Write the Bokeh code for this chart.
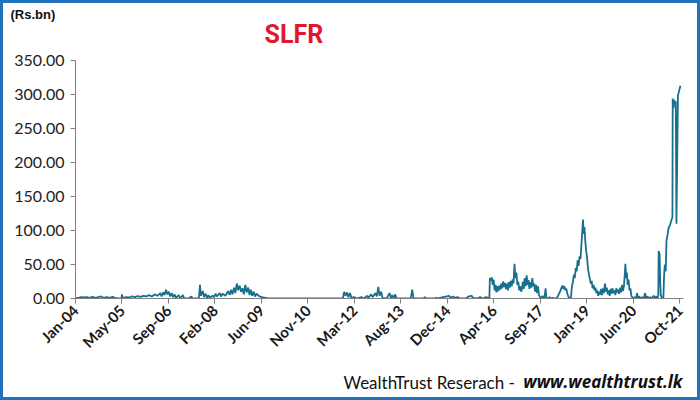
import math
from datetime import datetime, timedelta
from bokeh.plotting import figure
from bokeh.layouts import column
from bokeh.models import Range1d, FixedTicker, PrintfTickFormatter, Title
from bokeh.core.properties import value
from bokeh.embed import file_html
from bokeh.resources import INLINE

# ---- data (Rs.bn) ----
dates = [
    "2004-01-05","2004-02-01","2004-03-01","2004-04-01","2004-05-01","2004-06-01","2004-07-01","2004-08-01",
    "2004-09-01","2004-10-01","2004-11-01","2004-12-01",
    "2005-01-01","2005-02-01","2005-03-01","2005-04-01","2005-05-10","2005-05-15","2005-05-20","2005-07-01",
    "2005-08-01","2005-09-01","2005-10-01","2005-11-01","2005-12-01",
    "2006-01-01","2006-02-01","2006-03-01","2006-04-01","2006-05-01","2006-06-01","2006-07-01","2006-07-15",
    "2006-08-01","2006-08-15","2006-09-01","2006-09-15","2006-10-01","2006-10-15","2006-11-01","2006-11-15",
    "2006-12-01","2006-12-15",
    "2007-01-15","2007-02-01","2007-03-01","2007-03-15","2007-05-01","2007-06-01","2007-06-10","2007-08-20",
    "2007-09-01","2007-09-10","2007-10-01","2007-10-15","2007-11-01","2007-11-15","2007-12-01","2007-12-15",
    "2008-01-15","2008-02-01","2008-02-15","2008-03-01","2008-04-01","2008-04-15","2008-05-01","2008-06-01",
    "2008-07-01","2008-07-15","2008-08-01","2008-08-15","2008-09-01","2008-09-15","2008-10-01","2008-10-15",
    "2008-11-01","2008-11-15","2008-12-01","2008-12-15",
    "2009-01-01","2009-01-15","2009-02-01","2009-02-15","2009-03-01","2009-03-15","2009-04-01","2009-04-15",
    "2009-05-01","2009-06-01","2009-07-01","2009-08-01","2009-09-01",
    "2011-10-15","2011-11-15","2011-12-01","2011-12-15","2012-01-01","2012-01-15","2012-02-01","2012-02-15",
    "2012-03-15","2012-04-15","2012-06-01","2012-07-01","2012-08-01","2012-08-15","2012-09-15","2012-10-01",
    "2012-11-01","2012-11-15","2012-12-01","2012-12-15","2013-01-01","2013-01-15","2013-03-01","2013-04-01",
    "2013-04-15","2013-05-01","2013-05-15","2013-06-01","2013-06-15","2013-11-15","2013-12-01","2013-12-15",
    "2014-04-01","2014-04-15","2014-05-01","2014-08-01","2014-08-15","2014-09-01",
    "2015-01-01","2015-01-15","2015-02-15","2015-03-01","2015-04-01","2015-05-01","2015-07-01","2015-08-01",
    "2015-09-01","2015-09-15","2015-11-01","2015-12-01","2016-01-01","2016-02-01","2016-03-01","2016-03-10",
    "2016-03-15","2016-03-25","2016-04-05","2016-04-15","2016-04-25","2016-05-05","2016-05-15","2016-05-25",
    "2016-06-05","2016-06-15","2016-06-25","2016-07-05","2016-07-15","2016-07-25","2016-08-05","2016-08-15",
    "2016-08-25","2016-09-05","2016-09-15","2016-09-25","2016-10-05","2016-10-15","2016-10-25","2016-11-05",
    "2016-11-15","2016-11-25","2016-12-05","2016-12-15","2016-12-25",
    "2017-01-05","2017-01-15","2017-01-25","2017-02-05","2017-02-15","2017-02-25","2017-03-05","2017-03-15",
    "2017-03-25","2017-04-05","2017-04-15","2017-04-25","2017-05-05","2017-05-15","2017-05-25","2017-06-05",
    "2017-06-15","2017-06-25","2017-07-05","2017-07-15","2017-07-25","2017-08-05","2017-08-15","2017-08-25",
    "2017-09-05","2017-09-20","2017-10-01","2017-10-15","2017-10-25","2017-11-05","2017-11-12","2017-12-01",
    "2017-12-15",
    "2018-01-05","2018-01-20","2018-02-05","2018-03-01","2018-03-15","2018-04-01","2018-04-15","2018-04-25",
    "2018-05-05","2018-05-15","2018-05-25","2018-06-05","2018-06-15","2018-06-25","2018-07-05","2018-07-15",
    "2018-07-25","2018-08-05","2018-08-15","2018-08-25","2018-09-05","2018-09-15","2018-09-25","2018-10-05",
    "2018-10-15","2018-10-25","2018-11-05","2018-11-15","2018-11-25","2018-12-05","2018-12-12","2018-12-20",
    "2018-12-28",
    "2019-01-05","2019-01-15","2019-01-25","2019-02-05","2019-02-15","2019-02-25","2019-03-05","2019-03-15",
    "2019-03-25","2019-04-05","2019-04-15","2019-04-25","2019-05-05","2019-05-15","2019-05-25","2019-06-05",
    "2019-06-15","2019-06-25","2019-07-05","2019-07-15","2019-07-25","2019-08-05","2019-08-15","2019-08-25",
    "2019-09-05","2019-09-15","2019-09-25","2019-10-05","2019-10-15","2019-10-25","2019-11-05","2019-11-15",
    "2019-11-25","2019-12-05","2019-12-15","2019-12-25",
    "2020-01-05","2020-01-15","2020-01-25","2020-02-05","2020-02-15","2020-02-25","2020-03-05","2020-03-12",
    "2020-03-20","2020-03-28","2020-04-05","2020-04-15","2020-04-25","2020-05-05","2020-05-15","2020-05-25",
    "2020-06-05","2020-06-20","2020-07-05","2020-07-15","2020-07-25","2020-08-10","2020-08-25","2020-09-10",
    "2020-09-25","2020-10-10","2020-10-20","2020-11-05","2020-11-20","2020-12-05","2020-12-20",
    "2021-01-10","2021-01-25","2021-02-10","2021-02-20","2021-03-01","2021-03-05","2021-03-15","2021-03-22",
    "2021-03-28","2021-04-10","2021-04-25","2021-05-01","2021-05-10","2021-05-20","2021-05-28","2021-06-10",
    "2021-06-20","2021-07-05","2021-07-20","2021-07-31","2021-08-03","2021-08-12","2021-08-20","2021-08-28",
    "2021-09-05","2021-09-12","2021-09-20","2021-09-28","2021-10-10","2021-10-25",
]
values = [
    1,0.5,2,1.5,2,1,2.5,1,2,3,1,2,
    1,2.5,1,0,0.5,6,1,2,1.5,3,2,3.5,2.5,
    4,3,5,3,6,4,8,3,9,5,13,6,10,3,8,2,6,1,
    5,0,5,0,0,3,0,0,20,4,11,2,7,1,5,1,
    4,2,7,3,8,3,7,4,11,5,13,6,16,8,22,12,19,10,15,6,
    20,9,16,5,13,4,10,3,7,3,2,1,0,
    0,0,10,4,9,2,8,1,2,0,2,0,4,1,6,2,8,3,17,4,10,1,0,8,1,5,0,6,0,0,13,0,
    0,2,0,0,1,0,
    4,1,3,1,2,0,0,3,4,1,0,2,0,2,1,0,
    30,26,31,20,28,12,20,9,18,11,19,13,22,15,25,17,23,14,22,12,24,16,26,18,28,22,51,30,38,
    20,25,12,18,10,15,25,14,30,18,34,20,27,14,24,16,30,18,22,10,20,8,18,5,2,0,4,0,3,15,1,0,2,
    0,1,0,0,3,8,12,16,19,14,18,12,15,8,4,1,0,2,18,24,35,30,45,40,56,48,62,58,80,100,116,95,105,
    85,70,60,42,35,28,22,26,15,20,12,16,8,12,4,10,6,14,5,15,8,22,10,16,6,12,4,14,7,15,8,12,5,15,9,13,
    7,16,9,20,11,18,35,51,30,38,20,28,12,15,4,2,0,2,0,8,1,3,0,2,0,8,1,3,0,2,0,
    4,1,3,0,5,70,65,20,5,0,2,30,50,40,85,95,104,108,115,120,294,280,292,285,290,110,200,298,305,313,
]

tick_labels = ["Jan-04","May-05","Sep-06","Feb-08","Jun-09","Nov-10","Mar-12",
               "Aug-13","Dec-14","Apr-16","Sep-17","Jan-19","Jun-20","Oct-21"]
tick_step_days = 500
y_ticks = [0, 50, 100, 150, 200, 250, 300, 350]

unit_text = "(Rs.bn)"
title_text = "SLFR"
source_text = "WealthTrust Reserach - "
source_url = "www.wealthtrust.lk"

W = 694
FRAME_L, FRAME_R = 75, 683   # page x of the shared plot frame (strips align to it)
x = [datetime.strptime(d, "%Y-%m-%d") for d in dates]
start = datetime(2004, 1, 1)
tick_dates = [start + timedelta(days=tick_step_days * i) for i in range(len(tick_labels))]
tick_ms = [(t - datetime(1970, 1, 1)).total_seconds() * 1000.0 for t in tick_dates]


def text_strip(h, top=0):
    f = figure(width=W, height=h, x_range=Range1d(FRAME_L, FRAME_R), y_range=Range1d(0, h - top),
               output_backend="svg", toolbar_location=None, tools="", min_border=0,
               min_border_left=72, min_border_right=14, min_border_top=top, min_border_bottom=0,
               x_axis_location=None, y_axis_location=None)
    f.outline_line_color = None
    f.grid.visible = False
    f.background_fill_color = "white"
    f.border_fill_color = "white"
    return f


# header strip: unit title above its frame, chart title as text inside
HH, HTOP = 48, 19
head = text_strip(HH, HTOP)
head.add_layout(Title(text=unit_text, align="left", offset=-65, standoff=2,
                      text_font="Liberation Sans", text_font_style="bold", text_font_size="13px",
                      text_color="#111111"), "above")
head.text(x=[264], y=[HH - HTOP + 3], text=[title_text], text_baseline="top", text_align="left",
          text_font=value("Roboto"), text_font_style="bold", text_font_size="25px",
          text_color="#e0182d")

# main chart
p = figure(width=W, height=320, x_axis_type="datetime", output_backend="svg",
           toolbar_location=None, tools="",
           x_range=Range1d(start, start + timedelta(days=6540)),
           y_range=Range1d(0, 350),
           min_border_left=72, min_border_right=14, min_border_top=9, min_border_bottom=73)
p.outline_line_color = None
p.grid.visible = False
p.background_fill_color = "white"
p.border_fill_color = "white"

p.line(x, values, line_color="#17708c", line_width=1.8)

p.yaxis.ticker = FixedTicker(ticks=y_ticks)
p.yaxis.formatter = PrintfTickFormatter(format="%.2f")
p.yaxis.major_label_text_font = "Lato"
p.yaxis.major_label_text_font_size = "16px"
p.yaxis.major_label_text_color = "#222222"
p.yaxis.axis_line_color = "#808080"
p.yaxis.major_tick_line_color = "#808080"
p.yaxis.major_tick_out = 5
p.yaxis.major_tick_in = 0
p.yaxis.minor_tick_line_color = None
p.yaxis.major_label_standoff = 6

p.xaxis.ticker = FixedTicker(ticks=tick_ms)
p.xaxis.major_label_overrides = {t: l for t, l in zip(tick_ms, tick_labels)}
p.xaxis.major_label_orientation = math.pi / 4
p.xaxis.major_label_text_font = "Lato"
p.xaxis.major_label_text_font_style = "bold"
p.xaxis.major_label_text_font_size = "15px"
p.xaxis.major_label_text_color = "#1a1a1a"
p.xaxis.axis_line_color = "#808080"
p.xaxis.major_tick_line_color = "#808080"
p.xaxis.major_tick_out = 5
p.xaxis.major_tick_in = 0
p.xaxis.minor_tick_line_color = None
p.xaxis.major_label_standoff = 4

# footer strip
FH = 26
foot = text_strip(FH)
foot.text(x=[343], y=[5], text=[source_text], text_baseline="bottom", text_align="left",
          text_font=value("Lato"), text_font_size="17px", text_color="#111111")
foot.text(x=[682], y=[5], text=[source_url], text_baseline="bottom", text_align="right",
          text_font=value("Open Sans"), text_font_style="bold italic", text_font_size="17px",
          text_color="#111111")

layout = column(head, p, foot, spacing=0, styles={"border": "3px solid #2172b8"})

open("out.html", "w").write(file_html(layout, INLINE))
